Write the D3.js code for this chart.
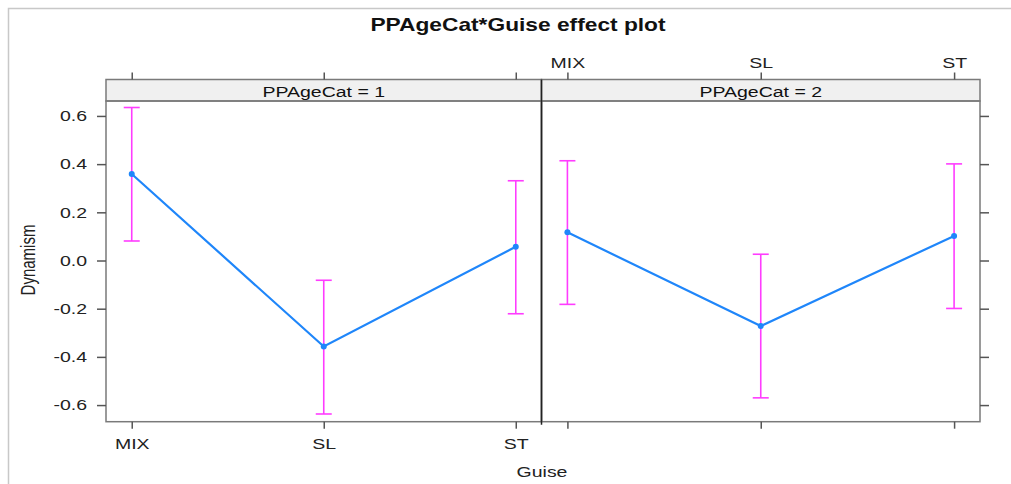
<!DOCTYPE html>
<html>
<head>
<meta charset="utf-8">
<script src="https://cdn.jsdelivr.net/npm/d3@7"></script>
<style>
  body { margin: 0; background: #fff; }
  svg { display: block; font-family: "Liberation Sans", Arial, sans-serif; }
</style>
</head>
<body>
<svg width="1011" height="484"></svg>
<script>
const guise = ["MIX", "SL", "ST"];
const ageCats = ["1", "2"];
const fit1 = [0.359, -0.357, 0.057];
const lower1 = [0.081, -0.637, -0.221];
const upper1 = [0.635, -0.082, 0.331];
const fit2 = [0.117, -0.272, 0.102];
const lower2 = [-0.182, -0.570, -0.199];
const upper2 = [0.414, 0.026, 0.401];
const yTicks = [-0.6, -0.4, -0.2, 0.0, 0.2, 0.4, 0.6];

const series = [
    { cat: ageCats[0], fit: fit1, lower: lower1, upper: upper1 },
    { cat: ageCats[1], fit: fit2, lower: lower2, upper: upper2 }
];

const svg = d3.select("svg");
const sx = 1.3; // the picture is stretched sideways
const stretch = "scale(" + sx + ",1)";

// outer frame
svg.append("rect")
    .attr("x", 8.5).attr("y", 8.5)
    .attr("width", 1100).attr("height", 600)
    .attr("fill", "none").attr("stroke", "#c8c8c8").attr("stroke-width", 1.5);

const stripTop = 79.5, stripBottom = 101, panelBottom = 421.7;
const panelX = [[106, 541.5], [541.5, 980]];

const y = d3.scaleLinear().domain([-0.669, 0.662]).range([panelBottom, stripBottom]);

function stretchTexts(g) {
    g.selectAll("text").attr("transform", stretch);
}

series.forEach(function(s, i) {
    const x = d3.scalePoint().domain(guise).range(panelX[i]).padding(0.134);
    const g = svg.append("g");
    const w = panelX[i][1] - panelX[i][0];

    // strip
    g.append("rect")
        .attr("x", panelX[i][0]).attr("y", stripTop)
        .attr("width", w).attr("height", stripBottom - stripTop)
        .attr("fill", "#f0f0f0").attr("stroke", "#7a7a7a").attr("stroke-width", 1.5);
    g.append("text")
        .attr("transform", "translate(" + (panelX[i][0] + w / 2) + ",97.3) " + stretch)
        .attr("text-anchor", "middle")
        .attr("font-size", 15).attr("fill", "#111")
        .text("PPAgeCat = " + s.cat);

    // panel box
    g.append("rect")
        .attr("x", panelX[i][0]).attr("y", stripBottom)
        .attr("width", w).attr("height", panelBottom - stripBottom)
        .attr("fill", "none").attr("stroke", "#7a7a7a").attr("stroke-width", 1.5);

    // axes
    const bottomAxis = d3.axisBottom(x).tickSize(7).tickPadding(10);
    const topAxis = d3.axisTop(x).tickSize(7).tickPadding(5);
    if (i === 0) {
        const gy = g.append("g").attr("transform", "translate(" + panelX[i][0] + ",0)")
            .call(d3.axisLeft(y).tickValues(yTicks).tickSize(9).tickPadding(5.6)
                .tickFormat(d => d.toFixed(1)));
        stretchTexts(gy);
        gy.selectAll("text").attr("font-size", 15);
        const gb = g.append("g").attr("transform", "translate(0," + panelBottom + ")").call(bottomAxis);
        stretchTexts(gb);
        gb.selectAll("text").attr("font-size", 15);
        g.append("g").attr("transform", "translate(0," + stripTop + ")")
            .call(topAxis.tickFormat(""));
    } else {
        g.append("g").attr("transform", "translate(" + panelX[i][1] + ",0)")
            .call(d3.axisRight(y).tickValues(yTicks).tickSize(9).tickFormat(""));
        const gt = g.append("g").attr("transform", "translate(0," + stripTop + ")").call(topAxis);
        stretchTexts(gt);
        gt.selectAll("text").attr("font-size", 15);
        g.append("g").attr("transform", "translate(0," + panelBottom + ")")
            .call(bottomAxis.tickFormat(""));
    }
    g.selectAll(".domain").remove();
    g.selectAll(".tick line").attr("stroke", "#555").attr("stroke-width", 1.5);
    g.selectAll(".tick text").attr("fill", "#222").attr("font-family", "Liberation Sans, Arial, sans-serif");

    // error bars
    const bars = g.append("g").attr("stroke", "#ff3cff").attr("stroke-width", 1.6).attr("fill", "none");
    guise.forEach(function(c, j) {
        const cx = x(c);
        bars.append("line").attr("x1", cx).attr("x2", cx)
            .attr("y1", y(s.lower[j])).attr("y2", y(s.upper[j]));
        bars.append("line").attr("x1", cx - 8).attr("x2", cx + 8)
            .attr("y1", y(s.lower[j])).attr("y2", y(s.lower[j]));
        bars.append("line").attr("x1", cx - 8).attr("x2", cx + 8)
            .attr("y1", y(s.upper[j])).attr("y2", y(s.upper[j]));
    });

    // fitted line
    const line = d3.line().x((d, j) => x(guise[j])).y(d => y(d));
    g.append("path").datum(s.fit)
        .attr("d", line)
        .attr("fill", "none").attr("stroke", "#1f86fa").attr("stroke-width", 2.2);
    g.selectAll("circle").data(s.fit).enter().append("circle")
        .attr("cx", (d, j) => x(guise[j]))
        .attr("cy", d => y(d))
        .attr("r", 3)
        .attr("fill", "#1f86fa");
});

// divider between panels
svg.append("line")
    .attr("x1", 541.5).attr("x2", 541.5)
    .attr("y1", stripTop).attr("y2", panelBottom + 3)
    .attr("stroke", "#222").attr("stroke-width", 1.5);

// title
svg.append("text")
    .attr("transform", "translate(518,30.7) " + stretch)
    .attr("text-anchor", "middle")
    .attr("font-size", 17.5).attr("font-weight", "bold").attr("fill", "#111")
    .text("PPAgeCat*Guise effect plot");

// axis titles
svg.append("text")
    .attr("transform", "translate(542,476.7) " + stretch)
    .attr("text-anchor", "middle")
    .attr("font-size", 15).attr("fill", "#222")
    .text("Guise");
svg.append("text")
    .attr("transform", "translate(35,260) " + stretch + " rotate(-90)")
    .attr("text-anchor", "middle")
    .attr("font-size", 15).attr("fill", "#222")
    .text("Dynamism");
</script>
</body>
</html>
